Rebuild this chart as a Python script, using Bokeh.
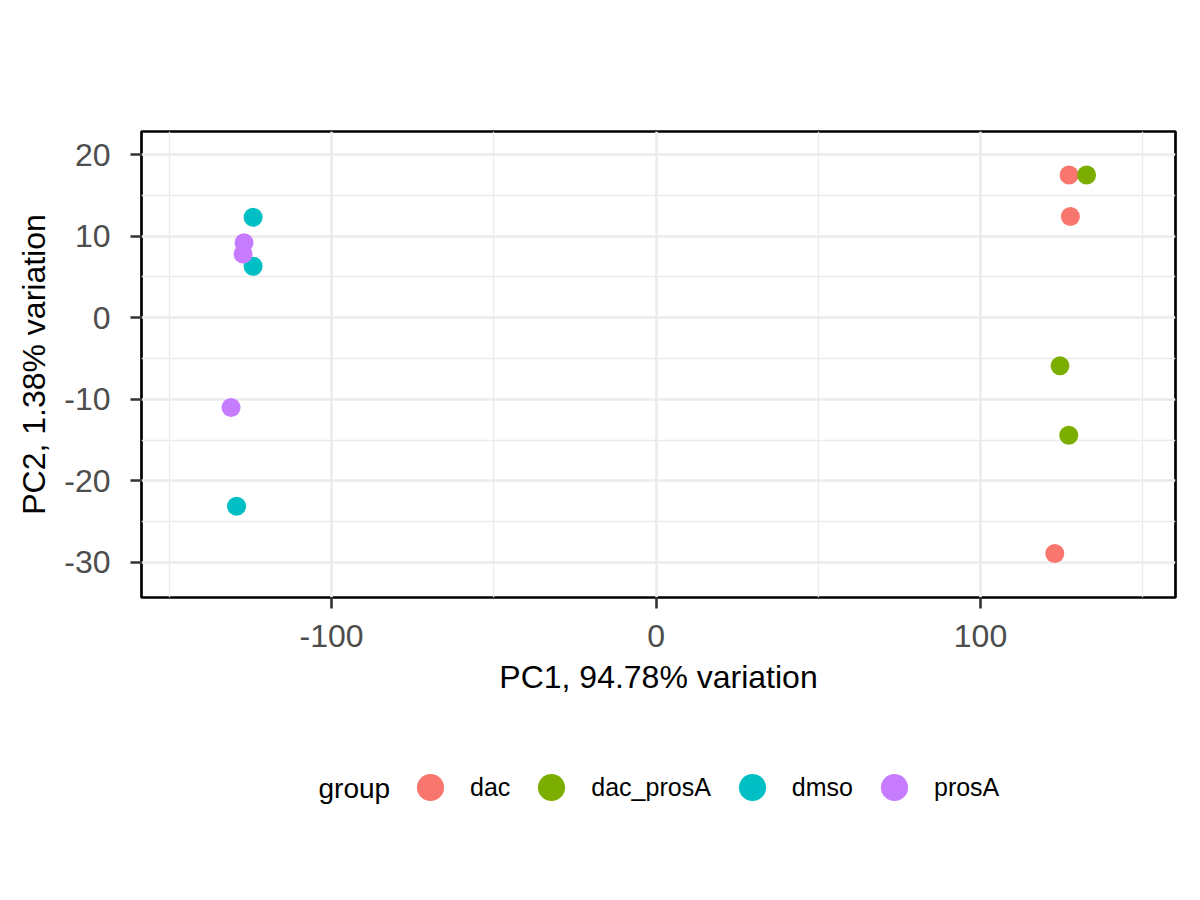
from bokeh.plotting import figure
from bokeh.layouts import column
from bokeh.models import (
    ColumnDataSource,
    Range1d,
    FixedTicker,
    Legend,
    LegendItem,
    Label,
)
from bokeh.embed import file_html
from bokeh.resources import INLINE

# PCA scores
groups = ["dac", "dac_prosA", "dmso", "prosA"]
colors = ["#F8766D", "#7CAE00", "#00BFC4", "#C77CFF"]
pc1 = {
    "dac": [127.3, 127.7, 122.9],
    "dac_prosA": [132.7, 124.5, 127.2],
    "dmso": [-124.2, -124.2, -129.3],
    "prosA": [-127.0, -127.3, -131.0],
}
pc2 = {
    "dac": [17.5, 12.4, -28.9],
    "dac_prosA": [17.5, -5.9, -14.4],
    "dmso": [12.3, 6.3, -23.1],
    "prosA": [9.2, 7.8, -11.0],
}
x_ticks = [-100, 0, 100]
x_minor = [-150, -50, 50, 150]
y_ticks = [-30, -20, -10, 0, 10, 20]
y_minor = [-25, -15, -5, 5, 15]
x_title = "PC1, 94.78% variation"
y_title = "PC2, 1.38% variation"
legend_title = "group"

FONT = "Liberation Sans"
W = 1184
MAIN_H = 707
LEG_H = 177
BORDER_L, BORDER_R = 141, 9
FRAME_W = W - BORDER_L - BORDER_R

p = figure(
    width=W,
    height=MAIN_H,
    x_range=Range1d(-158.6, 160.1),
    y_range=Range1d(-34.29, 22.82),
    output_backend="svg",
    toolbar_location=None,
    tools="",
    min_border_left=BORDER_L,
    min_border_right=BORDER_R,
    min_border_top=131,
    min_border_bottom=110,
)
p.outline_line_color = "black"
p.outline_line_width = 2.7

# grid
for grid in (p.xgrid, p.ygrid):
    grid.grid_line_color = "#EBEBEB"
    grid.grid_line_width = 2.6
    grid.minor_grid_line_color = "#EBEBEB"
    grid.minor_grid_line_width = 1.3

p.xaxis.ticker = FixedTicker(ticks=x_ticks, minor_ticks=x_minor)
p.yaxis.ticker = FixedTicker(ticks=y_ticks, minor_ticks=y_minor)
# ggplot style hyphen minus in the tick labels
p.xaxis.major_label_overrides = {t: str(t) for t in x_ticks}
p.yaxis.major_label_overrides = {t: str(t) for t in y_ticks}

for ax in (p.xaxis, p.yaxis):
    ax.axis_line_color = None
    ax.minor_tick_line_color = None
    ax.major_tick_in = 0
    ax.major_tick_out = 11
    ax.major_tick_line_color = "#333333"
    ax.major_tick_line_width = 2.6
    ax.major_label_text_font = FONT
    ax.major_label_text_font_size = "32px"
    ax.major_label_text_color = "#4D4D4D"
    ax.axis_label_text_font = FONT
    ax.axis_label_text_font_size = "32px"
    ax.axis_label_text_font_style = "normal"
    ax.axis_label_text_color = "black"

p.xaxis.axis_label = x_title
p.yaxis.axis_label = y_title
p.xaxis.major_label_standoff = 16
p.xaxis.axis_label_standoff = 9
p.yaxis.major_label_standoff = 20
p.yaxis.axis_label_standoff = 9

for g, c in zip(groups, colors):
    src = ColumnDataSource(dict(x=pc1[g], y=pc2[g]))
    p.scatter("x", "y", source=src, size=19, fill_color=c, line_color=None)

# legend strip underneath the plot, frame aligned with the main one
leg = figure(
    width=W,
    height=LEG_H,
    x_range=Range1d(0, FRAME_W),
    y_range=Range1d(0, LEG_H),
    output_backend="svg",
    toolbar_location=None,
    tools="",
    min_border_left=BORDER_L,
    min_border_right=BORDER_R,
    min_border_top=0,
    min_border_bottom=0,
)
leg.axis.visible = False
leg.grid.visible = False
leg.outline_line_color = None

items = []
for g, c in zip(groups, colors):
    # never drawn in the strip itself, only gives the legend its swatch
    r = leg.scatter(x=[float("nan")], y=[float("nan")], size=19, fill_color=c, line_color=None)
    items.append(LegendItem(label=g, renderers=[r]))

legend = Legend(
    items=items,
    orientation="horizontal",
    location=(396 - BORDER_L, 63),
    glyph_width=68,
    glyph_height=68,
    label_standoff=6,
    spacing=7,
    padding=0,
    margin=0,
    border_line_color=None,
    background_fill_alpha=0,
    label_text_font=FONT,
    label_text_font_size="25px",
    label_text_color="black",
)
leg.add_layout(legend, "center")
leg.add_layout(Label(
    x=318 - BORDER_L, y=LEG_H - 81, text=legend_title,
    text_font=FONT, text_font_size="28px", text_color="black",
    text_baseline="middle", text_align="left",
))

open("out.html", "w").write(file_html(column(p, leg, spacing=0), INLINE))
